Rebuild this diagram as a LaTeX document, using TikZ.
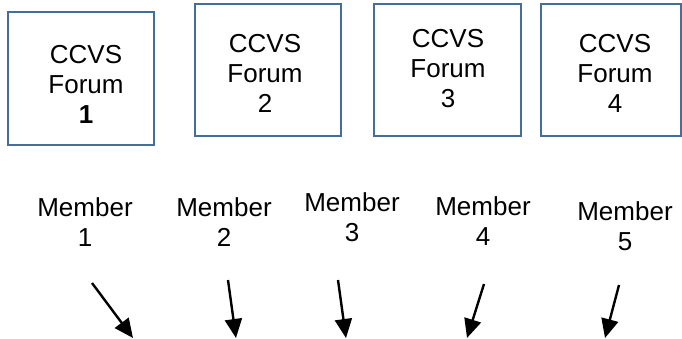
\documentclass[tikz,border=0pt]{standalone}
\usepackage{fontspec}
\setmainfont{Liberation Sans}
\usetikzlibrary{arrows.meta}
\definecolor{boxblue}{RGB}{70,110,155}
\tikzset{
  forumbox/.style={draw=boxblue, line width=2pt, minimum height=132pt, inner sep=0pt},
  lbl/.style={align=center, inner sep=0pt, font=\fontsize{26}{30}\selectfont},
  arr/.style={line width=2.4pt, -{Triangle[length=19pt,width=17pt]}}
}
\begin{document}
\begin{tikzpicture}[x=1pt,y=-1pt]
\useasboundingbox (0,0) rectangle (682,339);
% boxes
\node[forumbox, minimum width=146pt, minimum height=133pt] (f1) at (81,78.5) {};
\node[forumbox, minimum width=146pt] (f2) at (268,70) {};
\node[forumbox, minimum width=147pt] (f3) at (447,70) {};
\node[forumbox, minimum width=140pt] (f4) at (611,70) {};
% box texts
\node[lbl] (t1) at (86,84) {CCVS\\Forum\\\textbf{1}};
\node[lbl] (t2) at (265,73) {CCVS\\Forum\\2};
\node[lbl] (t3) at (448,69) {CCVS\\Forum\\3};
\node[lbl] (t4) at (615,73) {CCVS\\Forum\\4};
% members
\node[lbl] (m1) at (85,222) {Member\\1};
\node[lbl] (m2) at (224,222) {Member\\2};
\node[lbl] (m3) at (352,217) {Member\\3};
\node[lbl] (m4) at (483,221) {Member\\4};
\node[lbl] (m5) at (625,226) {Member\\5};
% arrow end points
\coordinate (a1s) at (92,283);  \coordinate (a1e) at (133,338);
\coordinate (a2s) at (228,280); \coordinate (a2e) at (236,338);
\coordinate (a3s) at (338,280); \coordinate (a3e) at (346,338);
\coordinate (a4s) at (484,284); \coordinate (a4e) at (467,338);
\coordinate (a5s) at (619,285); \coordinate (a5e) at (605,338);
\draw[arr] (a1s) -- (a1e);
\draw[arr] (a2s) -- (a2e);
\draw[arr] (a3s) -- (a3e);
\draw[arr] (a4s) -- (a4e);
\draw[arr] (a5s) -- (a5e);
\end{tikzpicture}
\end{document}
